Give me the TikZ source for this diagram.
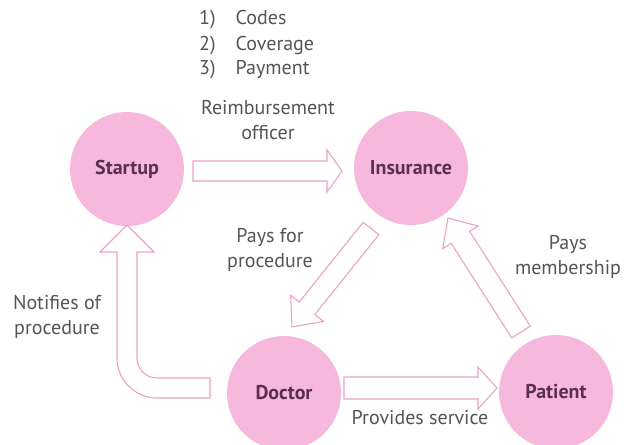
\documentclass[tikz,border=0pt]{standalone}
\usepackage{fontspec}
\setmainfont{PT Sans}
\usetikzlibrary{calc}
\definecolor{circpink}{HTML}{F6B9DD}
\definecolor{arrpink}{HTML}{E9A3CB}
\definecolor{labpurple}{HTML}{5A3050}
\definecolor{txtgray}{HTML}{555555}
\tikzset{
  actor/.style={circle, fill=circpink, minimum size=114pt, inner sep=0pt,
    font=\fontsize{20}{22}\selectfont\bfseries, text=labpurple},
  lbl/.style={font=\fontsize{20}{25}\selectfont, text=txtgray, align=center, inner sep=0pt},
  blockarrow/.style={draw=arrpink, line width=1.1pt, fill=white, line join=miter}
}
\newcommand\blockarr[5]{%
  \path ($(#2)!#5!(#1)$) coordinate (hb);
  \draw[blockarrow] ($(#1)!#3!90:(#2)$) -- ($(hb)!#3!90:(#2)$) -- ($(hb)!#4!90:(#2)$)
    -- (#2) -- ($(hb)!#4!-90:(#2)$) -- ($(hb)!#3!-90:(#2)$) -- ($(#1)!#3!-90:(#2)$) -- cycle;
}
\begin{document}
\begin{tikzpicture}[x=1pt,y=-1pt]
\useasboundingbox (0,0) rectangle (628,444);
\fill[white] (0,0) rectangle (628,444);
% actors
\node[actor] (startup)   at (127,169) {Startup};
\node[actor] (insurance) at (411,168) {Insurance};
\node[actor] (doctor)    at (284,393) {Doctor};
\node[actor] (patient)   at (556,392) {Patient};
% arrow end points
\coordinate (siT) at ($(startup.center)+(66,2)$);
\coordinate (siP) at ($(insurance.center)+(-69,3)$);
\coordinate (idT) at ($(insurance.center)+(-40,60.5)$);
\coordinate (idP) at ($(doctor.center)+(8,-66)$);
\coordinate (piT) at ($(patient.center)+(-35,-60)$);
\coordinate (piP) at ($(insurance.center)+(37,50)$);
\coordinate (dpT) at ($(doctor.center)+(60,-5)$);
\coordinate (dpP) at ($(patient.center)+(-59,-4)$);
\coordinate (dsT) at ($(doctor.center)+(-74,-5)$);
\coordinate (dsP) at ($(startup.center)+(0,56)$);
% straight block arrows
\blockarr{siT}{siP}{10pt}{21pt}{15pt}
\blockarr{idT}{idP}{10pt}{21pt}{24pt}
\blockarr{piT}{piP}{11pt}{21pt}{23pt}
\blockarr{dpT}{dpP}{11pt}{21pt}{19pt}
% curved block arrow doctor -> startup
\draw[blockarrow] ($(dsT)+(0,10)$) -- (157,398) .. controls (135,398) and (117,380) .. (117,358)
  -- (117,252) -- (100,252) -- (dsP) -- (154,252) -- (137,252) -- (137,358)
  .. controls (137,369) and (146,378) .. (157,378) -- ($(dsT)+(0,-10)$) -- cycle;
% labels
\node[lbl, anchor=west] (steps) at (199,45) {%
  \begin{tabular}{@{}l@{\hspace{20pt}}l@{}}1) & Codes\\ 2) & Coverage\\ 3) & Payment\end{tabular}};
\node[lbl] (reimb) at (268,120) {Reimbursement\\officer};
\node[lbl] (paysfor) at (270,250) {Pays for\\procedure};
\node[lbl] (paysmem) at (568,257) {Pays\\membership};
\node[lbl] (notif) at (57,317) {Notifies of\\procedure};
\node[lbl] (provides) at (420,418) {Provides service};
\end{tikzpicture}
\end{document}
